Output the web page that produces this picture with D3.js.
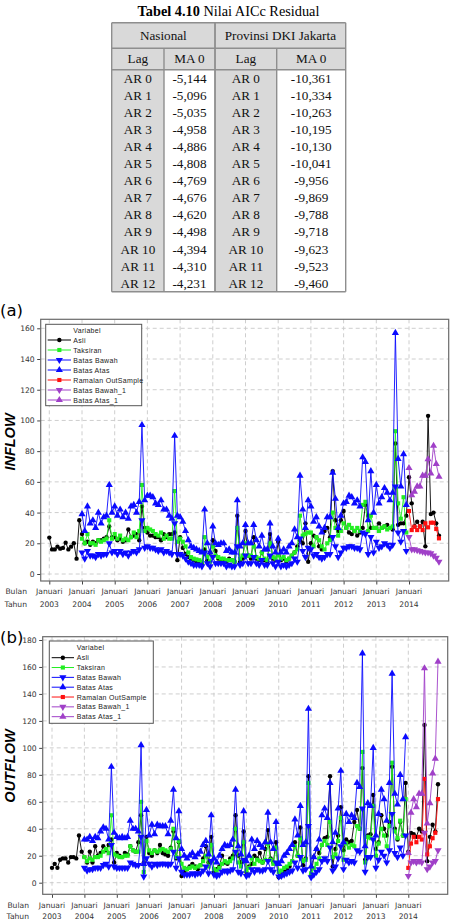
<!DOCTYPE html>
<html><head><meta charset="utf-8">
<script src="https://cdn.jsdelivr.net/npm/d3@7"></script>
<style>body{margin:0;background:#fff}svg{display:block}</style>
</head><body>
<svg id="c" width="458" height="922"></svg>
<script>
// ---------- TABLE DATA ----------
const lagLabels = ["AR 0","AR 1","AR 2","AR 3","AR 4","AR 5","AR 6","AR 7","AR 8","AR 9","AR 10","AR 11","AR 12"];
const nasionalMA0 = ["-5,144","-5,096","-5,035","-4,958","-4,886","-4,808","-4,769","-4,676","-4,620","-4,498","-4,394","-4,310","-4,231"];
const dkiMA0 = ["-10,361","-10,334","-10,263","-10,195","-10,130","-10,041","-9,956","-9,869","-9,788","-9,718","-9,623","-9,523","-9,460"];

// ---------- CHART DATA ----------
const yearLabels = ["2003","2004","2005","2006","2007","2008","2009","2010","2011","2012","2013","2014"];
const monthLabel = "Januari";
const legendNames = ["Asli","Taksiran","Batas Bawah","Batas Atas","Ramalan OutSample","Batas Bawah_1","Batas Atas_1"];

// INFLOW (monthly, Asli Jan 2003 - Dec 2014; fit Jan 2004 - Dec 2013; forecast Jan - Dec 2014)
const inflowAsli = [
 23.7,16,16,17.8,16.5,17,20.4,16,17.8,20,10,35,
 26,20,21,19,21,20,22,22,23,24,31,24,
 24,22,23,21,22,29,24,25,26,22,44,30,
 27,25,25,24,24,22,26,24,26,26,27,9,
 24,17,13,11,10,9,8,8,7,16,9,14,
 22,15,10,8,9,8,10,9,8,38,8,10,
 28,12,10,24,10,9,14,9,8,26,10,9,
 21,9,10,8,10,12,14,18,22,20,33,8,
 20,25,24,18,16,28,30,24,67,35,28,35,
 41,30,27,26,28,25,27,30,45,38,30,30,
 30,33,30,31,32,30,29,85,32,33,33,38,
 63,46,31,34,31,34,18,103,39,40,33,25];
const inflowTaksiran = [
 23,20,26,20,20,19,22,21,22,23,35,23,
 26,23,25,22,23,22,24,27,24,28,58,28,
 30,29,28,26,25,27,23,25,23,23,54,21,
 23,21,18,14,11,10,9.5,9,8,24,11,8,
 18,12,11,10,10,9,9,9,8,30,10,12,
 20,12,12,18,11,10,14,10,9,20,11,10,
 12,10,11,9,10,12,14,16,38,25,26,27,
 27,18,24,22,18,16,20,22,40,30,25,28,
 33,30,32,30,28,30,28,45,47,28,38,30,
 30,28,30,31,29,30,31,93,46,36,50,27];
const inflowBawah = [
 14,10,15,12,12,11,13,12,13,13,20,14,
 15,13,15,13,14,12,14,15,14,16,35,17,
 18,17,17,16,15,16,14,15,14,13,33,13,
 13,12,10,8,7,6,6,6,5,14,7,5,
 11,7,7,7,7,5,6,5,5,18,6,7,
 12,7,7,11,7,6,9,6,6,12,7,5,
 8,5,6,5,6,7,10,8,23,15,11,17,
 16,12,13,11,10,11,13,13,24,18,11,14,
 17,17,18,18,17,17,16,27,26,13,24,14,
 21,17,18,20,19,17,19,57,27,21,28,15];
const inflowAtas = [
 39,28,44,33,35,30,40,33,37,38,58,40,
 44,38,42,37,40,36,44,45,40,47,97,48,
 51,51,50,46,45,48,42,42,38,36,90,38,
 37,34,28,22,18,17,16,15,14,42,20,14,
 31,20,19,20,20,15,16,14,14,48,18,20,
 32,20,20,32,22,18,25,16,16,33,18,14,
 23,14,16,14,18,20,29,24,64,42,30,48,
 44,34,37,31,27,30,37,37,66,49,30,38,
 46,47,51,50,46,48,44,76,73,35,67,40,
 58,46,50,56,53,48,53,157,75,57,78,45];
const inflowRamalan = [41,28.6,30.8,28.6,31,28.6,33,30.4,33.4,33.4,29.3,23.2];
const inflowBawah1 = [24,16,16,15.5,15,14.5,14,14,13.5,12,10.5,8];
const inflowAtas1 = [69,51.4,53.6,57,57,64,64,74.7,65.5,83.5,71.6,63.4];

// OUTFLOW
const outflowAsli = [
 11,14,11,17,18,18,15,19,19,18,35,23,
 19,15,23,15,27,20,22,27,24,28,32,15,
 22,20,19,22,21,27,24,23,30,50,15,34,
 22,20,24,22,28,22,21,20,26,38,18,30,
 5,8,10,12,14,12,10,13,18,27,15,34,
 8,10,12,20,15,14,18,20,50,20,15,38,
 8,12,14,20,18,22,15,25,39,18,15,30,
 4,6,8,10,12,16,30,20,41,13,18,79,
 6,19,25,22,28,33,34,79,12,25,35,56,
 24,32,30,31,45,54,40,85,17,35,36,65,
 25,30,50,40,35,45,86,40,32,45,35,74,
 23,37,36,34,40,38,117,16,34,43,38,73];
const outflowTaksiran = [
 19,16,18,17,19,19,20,23,25,22,50,21,
 20,19,19,20,20,27,24,23,23,60,8,31,
 24,22,24,23,24,25,24,23,25,40,19,31,
 14,11,10,11,12,11,12,13,16,20,12,28,
 10,9,11,14,16,15,16,18,40,15,12,30,
 9,11,18,14,17,16,15,17,29,17,14,26,
 8,9,11,12,14,16,27,20,33,16,17,74,
 7,11,14,18,28,31,28,45,19,21,31,48,
 17,29,26,28,27,42,40,97,15,34,33,57,
 20,29,40,35,27,42,89,38,33,46,35,62];
const outflowBawah = [
 11,9,10,10,11,11,11,13,14,12,28,12,
 11,11,11,11,11,15,14,13,13,34,4.5,18,
 14,12,14,13,14,14,14,13,14,23,11,18,
 8,6,6,6,7,6,7,7,9,12,7,16,
 6,5,6,8,9,8,9,10,23,8,7,17,
 5,6,10,8,10,9,9,10,16,10,8,15,
 4.5,5,6,7,8,9,15,11,19,9,10,42,
 4,6,8,10,16,18,16,26,9,12,18,27,
 10,17,15,16,15,24,23,55,8,19,19,32,
 11,17,23,20,15,24,51,22,19,26,20,35];
const outflowAtas = [
 32,32,34,31,34,33,38,41,40,32,86,37,
 34,33,34,33,34,46,40,40,38,102,14,54,
 35,43,36,43,42,42,42,36,46,69,33,53,
 25,20,18,20,22,19,21,23,28,31,21,50,
 18,15,20,25,28,27,28,32,69,27,21,53,
 16,20,32,25,31,28,26,30,52,30,25,45,
 14,16,20,22,25,28,47,35,57,28,30,129,
 12,19,25,32,50,55,48,74,30,37,55,83,
 30,51,45,50,48,74,71,170,27,59,57,100,
 35,51,69,62,46,74,155,66,58,80,62,108];
const outflowRamalan = [11,29,34,30,34,32,77,21,27,33,37,62];
const outflowBawah1 = [5,15,16,15,16,15,37,10,12,15,16,24];
const outflowAtas1 = [22,52,62,56,66,66,159,44,59,81,92,164];

// ---------- STYLE ----------
const COL = {asli:"#000000", taks:"#22ee22", blue:"#0a0aff", red:"#ff1010", purple:"#a040c8"};
const svg = d3.select("#c");
const serif = "'Liberation Serif','Times New Roman',serif";
const sans = "'DejaVu Sans',Verdana,sans-serif";
const legFont = "'Liberation Sans',Arial,sans-serif";

// ---------- TABLE ----------
(function drawTable(){
  const t = svg.append("text").attr("x",228.5).attr("y",15.5).attr("text-anchor","middle")
    .style("font-family",serif).style("font-size","14.3px").attr("fill","#000");
  t.append("tspan").attr("font-weight","bold").text("Tabel 4.10");
  t.append("tspan").text(" Nilai AICc Residual");

  const cx = [111.7,164,215,276.7,345.7];
  const top = 22.7, h1 = 48.3, h2 = 69.7;
  const rowY = d3.scaleBand().domain(d3.range(lagLabels.length)).range([h2, 291.7]);
  const gray = "#d9d9d9", line = "#8e8e8e";
  const g = svg.append("g");
  g.append("rect").attr("x",cx[0]).attr("y",top).attr("width",cx[4]-cx[0]).attr("height",h2-top).attr("fill",gray);
  g.append("rect").attr("x",cx[0]).attr("y",h2).attr("width",cx[1]-cx[0]).attr("height",291.7-h2).attr("fill",gray);
  g.append("rect").attr("x",cx[2]).attr("y",h2).attr("width",cx[3]-cx[2]).attr("height",291.7-h2).attr("fill",gray);
  const ln = (x1,y1,x2,y2,w)=>g.append("line").attr("x1",x1).attr("y1",y1).attr("x2",x2).attr("y2",y2)
      .attr("stroke",line).attr("stroke-width",w||1.4);
  ln(cx[0],top,cx[4],top); ln(cx[0],h1,cx[4],h1); ln(cx[0],h2,cx[4],h2); ln(cx[0],291.7,cx[4],291.7);
  ln(cx[0],top,cx[0],291.7); ln(cx[4],top,cx[4],291.7); ln(cx[2],top,cx[2],291.7,1.8);
  ln(cx[1],h1,cx[1],291.7); ln(cx[3],h1,cx[3],291.7);
  const txt = (x,y,s)=>g.append("text").attr("x",x).attr("y",y).attr("text-anchor","middle")
      .style("font-family",serif).style("font-size","13.2px").attr("fill","#111").text(s);
  txt((cx[0]+cx[2])/2,40,"Nasional"); txt((cx[2]+cx[4])/2,40,"Provinsi DKI Jakarta");
  txt((cx[0]+cx[1])/2,63,"Lag"); txt((cx[1]+cx[2])/2,63,"MA 0");
  txt((cx[2]+cx[3])/2,63,"Lag"); txt((cx[3]+cx[4])/2,63,"MA 0");
  lagLabels.forEach((lab,i)=>{
    const y = rowY(i)+rowY.bandwidth()/2+4.5;
    txt((cx[0]+cx[1])/2,y,lab); txt((cx[1]+cx[2])/2,y,nasionalMA0[i]);
    txt((cx[2]+cx[3])/2,y,lab); txt((cx[3]+cx[4])/2,y,dkiMA0[i]);
  });
})();

// ---------- PANELS ----------
function symbolFor(kind){
  if(kind==="circle") return d3.symbol(d3.symbolCircle,15)();
  if(kind==="square") return d3.symbol(d3.symbolSquare,17)();
  return d3.symbol(d3.symbolTriangle,22)();
}
function drawPanel(cfg){
  const g = svg.append("g");
  const F = cfg.frame;
  const x = d3.scaleLinear().domain([0,132]).range(cfg.xr);
  const y = d3.scaleLinear().domain([0,cfg.ymax]).range(cfg.yr);
  const yTicks = d3.range(0,cfg.ymax+1,20);
  const xTicks = d3.range(0,133,12);
  // grid
  g.selectAll(".hg").data(yTicks).join("line").attr("x1",F.l).attr("x2",F.r)
    .attr("y1",d=>y(d)).attr("y2",d=>y(d)).attr("stroke","#c8c8c8").attr("stroke-dasharray","4,3").attr("stroke-width",0.9);
  g.selectAll(".vg").data(xTicks).join("line").attr("y1",F.t).attr("y2",F.b)
    .attr("x1",d=>x(d)).attr("x2",d=>x(d)).attr("stroke","#c8c8c8").attr("stroke-dasharray","4,3").attr("stroke-width",0.9);
  // axes
  const ya = g.append("g").attr("transform",`translate(${F.l},0)`)
    .call(d3.axisLeft(y).tickValues(yTicks).tickSize(3.5).tickPadding(2.5));
  ya.select(".domain").remove();
  ya.selectAll("line").attr("stroke","#444");
  ya.selectAll("text").style("font-family",sans).style("font-size","7.6px").attr("fill","#333");
  const xa = g.append("g").attr("transform",`translate(0,${F.b})`)
    .call(d3.axisBottom(x).tickValues(xTicks).tickSize(3.5).tickFormat(()=>""));
  xa.select(".domain").remove();
  xa.selectAll("line").attr("stroke","#444");
  const lab = (xx,yy,s,anchor)=>g.append("text").attr("x",xx).attr("y",yy).attr("text-anchor",anchor||"middle")
    .style("font-family",sans).style("font-size","7.6px").attr("fill","#333").text(s);
  xTicks.forEach((m,i)=>{ lab(x(m),cfg.bulanY,monthLabel); lab(x(m),cfg.tahunY,yearLabels[i]); });
  lab(cfg.bulanX,cfg.bulanY,"Bulan","end"); lab(cfg.bulanX,cfg.tahunY,"Tahun","end");
  // y label
  g.append("text").attr("transform",`translate(${cfg.ylabX},${cfg.ylabY}) rotate(-90)`).attr("text-anchor","middle")
    .style("font-family","'Liberation Sans',Arial,sans-serif").style("font-size","14.5px")
    .style("font-weight","bold").style("font-style","italic").attr("fill","#000").text(cfg.ylabel);
  // panel tag
  g.append("text").attr("x",0).attr("y",cfg.tagY).style("font-family",sans).style("font-size","16.5px")
    .attr("fill","#000").text(cfg.tag);
  // series
  const plot = g.append("g");
  cfg.series.forEach(s=>{
    const pts = s.values.map((v,i)=>({m:s.start+i,v}));
    plot.append("path").datum(pts).attr("fill","none").attr("stroke",s.color).attr("stroke-width",0.9)
      .attr("d",d3.line().x(d=>x(d.m)).y(d=>y(d.v)));
    plot.selectAll(null).data(pts).join("path").attr("d",symbolFor(s.marker))
      .attr("transform",d=>`translate(${x(d.m)},${y(d.v)})${s.down?" rotate(180)":""}`).attr("fill",s.color);
  });
  // frame
  g.append("rect").attr("x",F.l).attr("y",F.t).attr("width",F.r-F.l).attr("height",F.b-F.t)
    .attr("fill","none").attr("stroke","#6a6a6a").attr("stroke-width",1.2);
  // legend
  const L = cfg.legend;
  g.append("rect").attr("x",L.x).attr("y",L.y).attr("width",L.w).attr("height",L.h)
    .attr("fill","#fff").attr("stroke","#555").attr("stroke-width",1);
  const lt = (xx,yy,s)=>g.append("text").attr("x",xx).attr("y",yy).style("font-family",legFont)
    .style("font-size","7px").style("letter-spacing","0.3px").attr("fill","#222").text(s);
  lt(L.tx,L.hy+2.5,"Variabel");
  cfg.series.forEach((s,i)=>{
    const yy = L.r0 + i*L.dr;
    g.append("line").attr("x1",L.lx0).attr("x2",L.lx1).attr("y1",yy).attr("y2",yy).attr("stroke",s.color).attr("stroke-width",1);
    g.append("path").attr("d",symbolFor(s.marker))
      .attr("transform",`translate(${(L.lx0+L.lx1)/2},${yy})${s.down?" rotate(180)":""}`).attr("fill",s.color);
    lt(L.tx,yy+2.5,legendNames[i]);
  });
}
function seriesList(a,t,lo,hi,r,lo1,hi1){
  return [
    {values:a,start:0,color:COL.asli,marker:"circle"},
    {values:t,start:12,color:COL.taks,marker:"square"},
    {values:lo,start:12,color:COL.blue,marker:"tri",down:true},
    {values:hi,start:12,color:COL.blue,marker:"tri"},
    {values:r,start:132,color:COL.red,marker:"square"},
    {values:lo1,start:132,color:COL.purple,marker:"tri",down:true},
    {values:hi1,start:132,color:COL.purple,marker:"tri"}
  ];
}
drawPanel({
  frame:{l:40.7,t:319.3,r:448.7,b:581}, xr:[49.3,409], yr:[574,328.3], ymax:160,
  bulanY:594, tahunY:606.5, bulanX:27, ylabel:"INFLOW", ylabX:15, ylabY:442, tag:"(a)", tagY:316,
  legend:{x:45.7,y:324.3,w:96,h:81.4,tx:73.3,hy:330,r0:340,dr:10,lx0:47.7,lx1:71},
  series:seriesList(inflowAsli,inflowTaksiran,inflowBawah,inflowAtas,inflowRamalan,inflowBawah1,inflowAtas1)
});
drawPanel({
  frame:{l:42.7,t:636.7,r:447.7,b:894.3}, xr:[52,408.3], yr:[882.7,640], ymax:180,
  bulanY:907.5, tahunY:918.5, bulanX:29, ylabel:"OUTFLOW", ylabX:15, ylabY:766, tag:"(b)", tagY:643,
  legend:{x:49.3,y:641,w:104,h:82.3,tx:76.7,hy:647.3,r0:657.7,dr:9.83,lx0:51.7,lx1:74},
  series:seriesList(outflowAsli,outflowTaksiran,outflowBawah,outflowAtas,outflowRamalan,outflowBawah1,outflowAtas1)
});
</script>
</body></html>
